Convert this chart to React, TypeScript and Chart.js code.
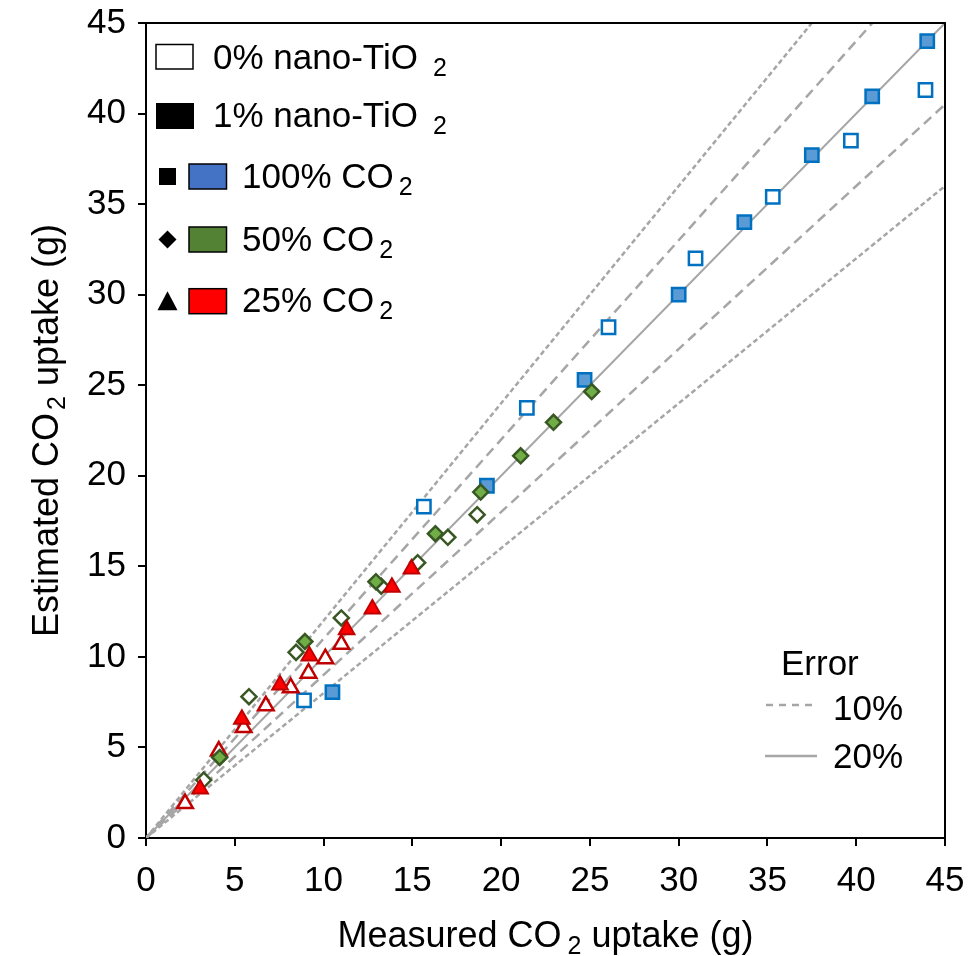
import React, { useEffect, useRef } from 'react';
import { Chart, registerables } from 'chart.js';

Chart.register(...registerables);

const AXIS_MIN = 0;
const AXIS_MAX = 45;
const TICK_STEP = 5;

// 0% nano-TiO2, 100% CO2 (open squares)
const open100X = [8.9, 15.65, 21.45, 26.05, 30.95, 35.3, 39.7, 43.9];
const open100Y = [7.6, 18.3, 23.75, 28.2, 32.0, 35.4, 38.5, 41.3];
// 1% nano-TiO2, 100% CO2 (filled squares)
const filled100X = [10.5, 19.2, 24.7, 30.0, 33.7, 37.5, 40.9, 44.0];
const filled100Y = [8.05, 19.45, 25.3, 30.0, 34.0, 37.7, 40.95, 44.0];
// 0% nano-TiO2, 50% CO2 (open diamonds)
const open50X = [3.25, 5.8, 8.45, 11.0, 13.25, 15.3, 17.0, 18.65];
const open50Y = [3.2, 7.8, 10.25, 12.15, 13.9, 15.2, 16.6, 17.85];
// 1% nano-TiO2, 50% CO2 (filled diamonds)
const filled50X = [4.15, 8.95, 12.95, 16.3, 18.85, 21.1, 22.95, 25.1];
const filled50Y = [4.45, 10.85, 14.15, 16.8, 19.1, 21.1, 22.95, 24.65];
// 0% nano-TiO2, 25% CO2 (open triangles)
const open25X = [2.2, 4.1, 5.5, 6.75, 8.15, 9.15, 10.1, 11.0];
const open25Y = [1.9, 4.8, 6.1, 7.3, 8.3, 9.1, 9.9, 10.7];
// 1% nano-TiO2, 25% CO2 (filled triangles)
const filled25X = [3.05, 5.4, 7.55, 9.2, 11.3, 12.75, 13.85, 14.95];
const filled25Y = [2.7, 6.55, 8.45, 10.05, 11.5, 12.65, 13.85, 14.85];

// reference lines y = k * x
const ERROR_RATIOS = [0.8, 0.9, 1.0, 1.1, 1.2];

const LEGEND_NANO = ['0% nano-TiO', '1% nano-TiO'];
const LEGEND_CO2 = ['100% CO', '50% CO', '25% CO'];
const SUB_TWO = '2';
const ERROR_TITLE = 'Error';
const ERROR_LABELS = ['10%', '20%'];
const X_TITLE = ['Measured CO', ' uptake (g)'];
const Y_TITLE = ['Estimated CO', ' uptake (g)'];

const FONT = '"Liberation Sans", Arial, Helvetica, sans-serif';
const GRAY = '#A6A6A6';

const pts = (xs: number[], ys: number[]) => xs.map((x, i) => ({ x, y: ys[i] }));

function chemWidth(ctx: CanvasRenderingContext2D, before: string, after: string, size: number, subSize: number, gap: number) {
  ctx.font = `${size}px ${FONT}`;
  let w = ctx.measureText(before).width + gap;
  ctx.font = `${subSize}px ${FONT}`;
  w += ctx.measureText(SUB_TWO).width;
  if (after) {
    ctx.font = `${size}px ${FONT}`;
    w += ctx.measureText(after).width;
  }
  return w;
}

function drawChem(ctx: CanvasRenderingContext2D, x: number, y: number, before: string, after: string, size: number, subSize: number, gap: number, drop: number) {
  ctx.textAlign = 'left';
  ctx.textBaseline = 'alphabetic';
  ctx.font = `${size}px ${FONT}`;
  ctx.fillText(before, x, y);
  let cx = x + ctx.measureText(before).width + gap;
  ctx.font = `${subSize}px ${FONT}`;
  ctx.fillText(SUB_TWO, cx, y + drop);
  cx += ctx.measureText(SUB_TWO).width;
  if (after) {
    ctx.font = `${size}px ${FONT}`;
    ctx.fillText(after, cx, y);
  }
}

const decorPlugin = {
  id: 'decor',
  afterDraw(chart: any) {
    const ctx: CanvasRenderingContext2D = chart.ctx;
    const a = chart.chartArea;
    ctx.save();
    // frame top + right
    ctx.strokeStyle = '#000';
    ctx.lineWidth = 2;
    ctx.beginPath();
    ctx.moveTo(a.left, a.top);
    ctx.lineTo(a.right, a.top);
    ctx.lineTo(a.right, a.bottom);
    ctx.stroke();

    ctx.fillStyle = '#000';
    const L = a.left;
    const T = a.top;
    // legend row 1: open box
    ctx.lineWidth = 1.5;
    ctx.strokeStyle = '#000';
    ctx.fillStyle = '#fff';
    ctx.fillRect(L + 10, T + 21.5, 37, 24.5);
    ctx.strokeRect(L + 10, T + 21.5, 37, 24.5);
    ctx.fillStyle = '#000';
    drawChem(ctx, L + 67, T + 45.5, LEGEND_NANO[0], '', 35, 25, 15, 7);
    // row 2: filled box
    ctx.fillRect(L + 10, T + 80, 38, 26);
    drawChem(ctx, L + 67, T + 104, LEGEND_NANO[1], '', 35, 25, 15, 7);
    const rows = [
      { cy: T + 153.5, color: '#4472C4', shape: 'square' },
      { cy: T + 216.5, color: '#548235', shape: 'diamond' },
      { cy: T + 278.2, color: '#FF0000', shape: 'triangle' },
    ];
    rows.forEach((r, i) => {
      ctx.fillStyle = '#000';
      const sx = L + 21.5;
      if (r.shape === 'square') {
        ctx.fillRect(sx - 8.5, r.cy - 8.5, 17, 17);
      } else if (r.shape === 'diamond') {
        ctx.beginPath();
        ctx.moveTo(sx, r.cy - 9);
        ctx.lineTo(sx + 9, r.cy);
        ctx.lineTo(sx, r.cy + 9);
        ctx.lineTo(sx - 9, r.cy);
        ctx.closePath();
        ctx.fill();
      } else {
        ctx.beginPath();
        ctx.moveTo(sx, r.cy - 10);
        ctx.lineTo(sx + 10, r.cy + 9);
        ctx.lineTo(sx - 10, r.cy + 9);
        ctx.closePath();
        ctx.fill();
      }
      ctx.fillStyle = r.color;
      ctx.fillRect(L + 43, r.cy - 12.5, 37.5, 25);
      ctx.lineWidth = 1.5;
      ctx.strokeStyle = '#000';
      ctx.strokeRect(L + 43, r.cy - 12.5, 37.5, 25);
      ctx.fillStyle = '#000';
      drawChem(ctx, L + 96, r.cy + 11, LEGEND_CO2[i], '', 35, 25, 5, 7);
    });

    // Error legend
    ctx.fillStyle = '#000';
    ctx.font = `35px ${FONT}`;
    ctx.textAlign = 'left';
    ctx.textBaseline = 'alphabetic';
    ctx.fillText(ERROR_TITLE, 781, 675);
    ctx.fillText(ERROR_LABELS[0], 833, 720);
    ctx.fillText(ERROR_LABELS[1], 833, 768);
    ctx.strokeStyle = GRAY;
    ctx.lineWidth = 2.5;
    ctx.setLineDash([7, 6]);
    ctx.beginPath();
    ctx.moveTo(766, 705);
    ctx.lineTo(817, 705);
    ctx.stroke();
    ctx.setLineDash([]);
    ctx.beginPath();
    ctx.moveTo(765, 756);
    ctx.lineTo(817, 756);
    ctx.stroke();

    // axis titles
    ctx.fillStyle = '#000';
    const cxMid = (a.left + a.right) / 2;
    const wx = chemWidth(ctx, X_TITLE[0], X_TITLE[1], 36, 25, 6);
    drawChem(ctx, cxMid - wx / 2, 947, X_TITLE[0], X_TITLE[1], 36, 25, 6, 7);

    const cyMid = (a.top + a.bottom) / 2;
    ctx.translate(58, cyMid);
    ctx.rotate(-Math.PI / 2);
    const wy = chemWidth(ctx, Y_TITLE[0], Y_TITLE[1], 36, 25, 3);
    drawChem(ctx, -wy / 2, 0, Y_TITLE[0], Y_TITLE[1], 36, 25, 3, 7);
    ctx.restore();
  },
};

export default function App() {
  const ref = useRef<HTMLCanvasElement | null>(null);
  useEffect(() => {
    document.body.style.margin = '0';
    const canvas = ref.current;
    if (!canvas) return;

    const scatter = (data: any, style: string, radius: number, fill: string, border: string, bw: number) => ({
      type: 'scatter',
      data,
      pointStyle: style,
      pointRadius: radius,
      pointHoverRadius: radius,
      backgroundColor: fill,
      borderColor: border,
      pointBackgroundColor: fill,
      pointBorderColor: border,
      pointBorderWidth: bw,
      showLine: false,
    });

    const lineSets = ERROR_RATIOS.map((r) => ({
      type: 'line',
      data: [
        { x: AXIS_MIN, y: AXIS_MIN * r },
        { x: AXIS_MAX, y: AXIS_MAX * r },
      ],
      borderColor: GRAY,
      borderWidth: r === 1 ? 2 : 2.5,
      borderDash: r === 1 ? [] : Math.abs(r - 1) > 0.15 ? [5, 3] : [10, 6],
      pointRadius: 0,
      showLine: true,
      fill: false,
    }));

    const datasets: any[] = [
      scatter(pts(filled25X, filled25Y), 'triangle', 9, '#FF0000', '#C00000', 2),
      scatter(pts(filled50X, filled50Y), 'rectRot', 7.5, '#70AD47', '#385723', 2.5),
      scatter(pts(open25X, open25Y), 'triangle', 9, '#FFFFFF', '#C00000', 2.5),
      scatter(pts(open50X, open50Y), 'rectRot', 7.5, '#FFFFFF', '#385723', 2.5),
      scatter(pts(filled100X, filled100Y), 'rect', 9.4, '#5B9BD5', '#0070C0', 2.5),
      scatter(pts(open100X, open100Y), 'rect', 9.4, '#FFFFFF', '#0070C0', 2.5),
      ...lineSets,
    ];

    const tickFont = { family: FONT, size: 35 };
    const chart = new Chart(canvas, {
      type: 'scatter',
      data: { datasets },
      options: {
        animation: false,
        responsive: false,
        devicePixelRatio: 1,
        layout: { padding: { top: 23, right: 26, left: 0, bottom: 0 } },
        plugins: { legend: { display: false }, tooltip: { enabled: false } },
        scales: {
          x: {
            type: 'linear',
            min: AXIS_MIN,
            max: AXIS_MAX,
            ticks: { stepSize: TICK_STEP, font: tickFont, color: '#000', padding: 14, maxRotation: 0 },
            grid: { drawOnChartArea: false, drawTicks: true, tickLength: 8, color: '#000', lineWidth: 2 },
            border: { display: true, color: '#000', width: 2 },
            afterFit: (s: any) => {
              s.height = 118;
              s.paddingLeft = 0;
              s.paddingRight = 0;
            },
          },
          y: {
            type: 'linear',
            min: AXIS_MIN,
            max: AXIS_MAX,
            ticks: { stepSize: TICK_STEP, font: tickFont, color: '#000', padding: 12 },
            grid: { drawOnChartArea: false, drawTicks: true, tickLength: 8, color: '#000', lineWidth: 2 },
            border: { display: true, color: '#000', width: 2 },
            afterFit: (s: any) => {
              s.width = 146;
              s.paddingTop = 0;
              s.paddingBottom = 0;
            },
          },
        },
      } as any,
      plugins: [decorPlugin],
    });
    return () => chart.destroy();
  }, []);

  return (
    <div style={{ width: 971, height: 956, background: '#fff' }}>
      <canvas ref={ref} width={971} height={956} style={{ display: 'block', width: 971, height: 956 }} />
    </div>
  );
}
